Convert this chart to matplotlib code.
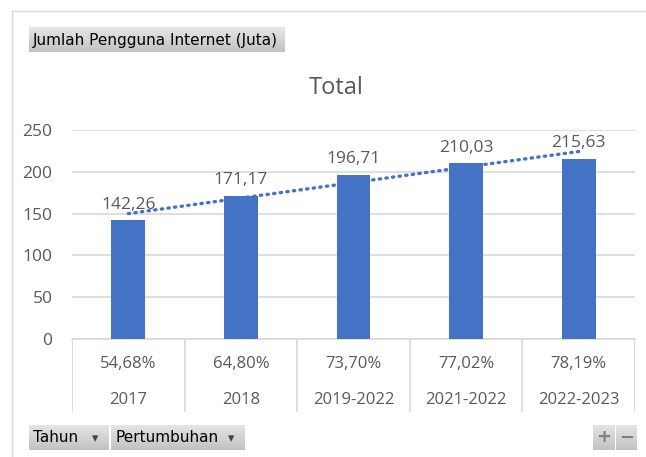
import numpy as np
import matplotlib
matplotlib.use("Agg")
import matplotlib.pyplot as plt

# data
tahun = ["2017", "2018", "2019-2022", "2021-2022", "2022-2023"]
pertumbuhan = ["54,68%", "64,80%", "73,70%", "77,02%", "78,19%"]
pengguna = [142.26, 171.17, 196.71, 210.03, 215.63]
yticks = [0, 50, 100, 150, 200, 250]

W, H = 646, 457
BLUE = "#4472C4"
GREY_TXT = "#595959"
GRID = "#D9D9D9"
plt.rcParams["font.family"] = ["Open Sans", "DejaVu Sans"]

fig = plt.figure(figsize=(W / 100, H / 100), dpi=100)


def px_axes(x0, y0, x1, y1):
    # axes given in pixel coords, y measured from the top
    return fig.add_axes([x0 / W, 1 - y1 / H, (x1 - x0) / W, (y1 - y0) / H])


# chart outline (left and top edge visible)
fig.add_artist(plt.Line2D([12 / W, 12 / W], [0, 1 - 11 / H], color=GRID, lw=1))
fig.add_artist(plt.Line2D([12 / W, 1], [1 - 11 / H, 1 - 11 / H], color=GRID, lw=1))

x = np.arange(len(tahun))

ax = px_axes(72, 130, 635, 339)
ax.bar(x, pengguna, width=0.3, color=BLUE, zorder=3)
ax.set_xlim(-0.5, len(tahun) - 0.5)
ax.set_ylim(0, 250)
ax.set_yticks(yticks)
ax.set_yticklabels([str(v) for v in yticks])
ax.yaxis.grid(True, color=GRID, lw=1.2)
ax.set_axisbelow(True)
ax.tick_params(axis="y", length=0, pad=14, labelsize=12.5, labelcolor=GREY_TXT)
ax.tick_params(axis="x", length=0, labelbottom=False)
for s in ["top", "right", "left"]:
    ax.spines[s].set_visible(False)
ax.spines["bottom"].set_color(GRID)
ax.spines["bottom"].set_linewidth(1.2)

for xi, v in zip(x, pengguna):
    ax.text(xi, v + 9, f"{v:.2f}".replace(".", ","), ha="center", va="bottom",
            fontsize=12.5, color=GREY_TXT, zorder=4)

# linear trendline
k, b = np.polyfit(x, pengguna, 1)
ax.plot(x, k * x + b, color=BLUE, lw=2.4, linestyle=(0, (0.4, 1.6)),
        dash_capstyle="round", zorder=4)

fig.text(336 / W, 1 - 88 / H, "Total", ha="center", va="center",
         fontsize=17, color=GREY_TXT)

# category table below the plot
tab = px_axes(72, 339, 635, 412)
tab.set_xlim(-0.5, len(tahun) - 0.5)
tab.set_ylim(0, 1)
tab.axis("off")
for b_ in np.arange(len(tahun) + 1) - 0.5:
    tab.axvline(b_, color=GRID, lw=1.2)
for xi, p, t in zip(x, pertumbuhan, tahun):
    tab.text(xi, 0.66, p, ha="center", va="center", fontsize=12, color=GREY_TXT)
    tab.text(xi, 0.17, t, ha="center", va="center", fontsize=12, color=GREY_TXT)


def button(x0, y0, x1, y1, label=None, arrow=False, sym=None):
    bax = px_axes(x0, y0, x1, y1)
    bax.set_xlim(0, 1)
    bax.set_ylim(0, 1)
    bax.axis("off")
    grad = np.linspace(0.76, 0.9, 50).reshape(-1, 1)
    bax.imshow(grad, cmap="gray", vmin=0, vmax=1, extent=[0, 1, 0, 1],
               aspect="auto", origin="lower")
    if label:
        bax.text(4 / (x1 - x0), 0.48, label, ha="left", va="center",
                 fontsize=11, color="black", family=["DejaVu Sans"])
    if arrow:
        bax.text(1 - 14 / (x1 - x0), 0.45, "\u25BE", ha="center", va="center",
                 fontsize=9, color="#404040", family=["DejaVu Sans"])
    if sym:
        bax.text(0.5, 0.5, sym, ha="center", va="center", fontsize=13,
                 color="#7F7F7F", fontweight="bold", family=["DejaVu Sans"])


button(29, 27, 285, 52, "Jumlah Pengguna Internet (Juta)")
button(29, 425, 109, 450, "Tahun", arrow=True)
button(111, 425, 245, 450, "Pertumbuhan", arrow=True)
button(593, 425, 614, 450, sym="+")
button(616, 425, 637, 450, sym="\u2212")

fig.savefig("out.png", dpi=100)
